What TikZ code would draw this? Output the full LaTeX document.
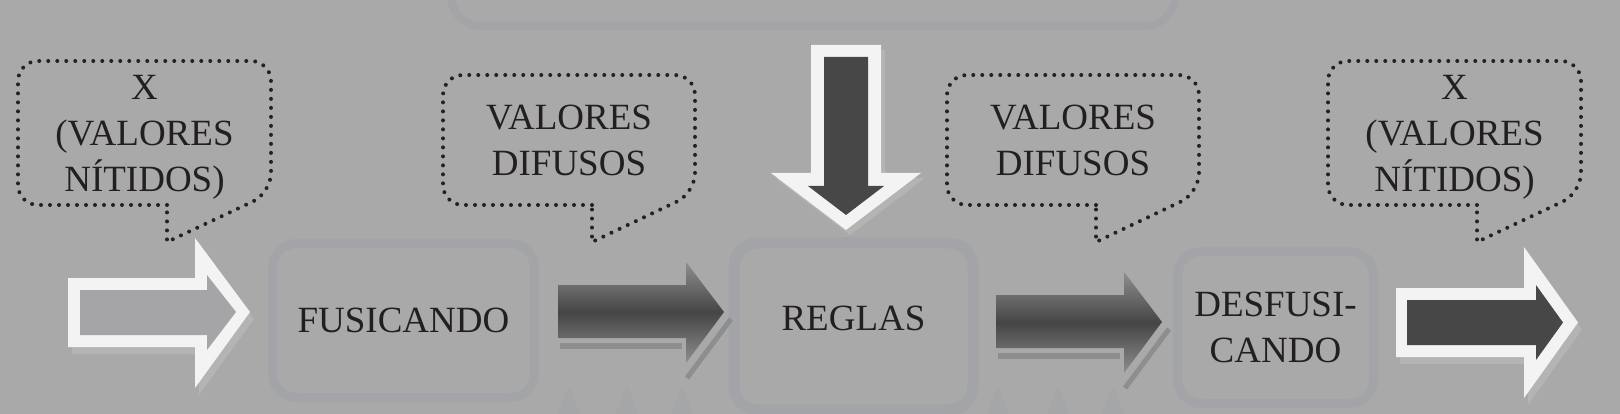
\documentclass[tikz,border=0pt]{standalone}
\usepackage{fontspec}
\setmainfont{Liberation Serif}
\usepackage{tikz}
\usetikzlibrary{positioning}
\usetikzlibrary{calc}
\definecolor{bggray}{HTML}{A9A9A9}
\definecolor{boxline}{HTML}{A3A4A7}
\definecolor{ghost}{HTML}{A5A6A8}
\definecolor{txtcol}{HTML}{231F20}
\definecolor{dotcol}{HTML}{222222}
\definecolor{arrwhite}{HTML}{F3F3F3}
\definecolor{arrdark}{HTML}{474747}
\definecolor{arrhollow}{HTML}{A5A5A7}
\definecolor{shadelight}{HTML}{B5B4B3}
\definecolor{shadedark}{HTML}{8D8E90}
\definecolor{gtop}{HTML}{8E8E8E}
\definecolor{gmid}{HTML}{454545}
\tikzstyle{stagebox}=[draw=boxline,line width=9pt,rounded corners=24pt,inner sep=0pt]
\tikzstyle{bubble}=[draw=dotcol,line width=4pt,line cap=round,dash pattern=on 0pt off 9pt]
\tikzstyle{txt}=[text=txtcol,font={\fontsize{37}{46}\selectfont},align=center]
\tikzstyle{gradarrow}=[top color=gtop,bottom color=gtop,middle color=gmid]

\begin{document}
\begin{tikzpicture}[x=1pt,y=-1pt]
  \useasboundingbox (0,0) rectangle (1620,414);
  \clip (0,0) rectangle (1620,414);
  \fill[bggray] (0,0) rectangle (1620,414);

  % faint box cut off at the top
  \node[stagebox,line width=8pt,rounded corners=30pt,minimum width=724pt,minimum height=140pt] (top) at (813,-44) {};

  \foreach \x in {569,627,682,998,1058,1113}
     \fill[ghost] (\x,385) -- (\x+11,414) -- (\x-11,414) -- cycle;

  \node[stagebox,txt,minimum width=262pt,minimum height=154pt] (fus) at (403.5,320.5) {FUSICANDO};
  \node[stagebox,txt,line width=11pt,minimum width=239pt,minimum height=167pt,text depth=17pt] (reg) at (853.5,326.5) {REGLAS};
  \node[stagebox,txt,minimum width=196pt,minimum height=152pt] (desf) at (1275.5,327.5) {DESFUSI-\\CANDO};

  % speech bubbles
  \foreach \name/\xl/\xr/\yt/\ty/\btext in {xin/18/271/61/137/{X\\(VALORES\\NÍTIDOS)}, difa/443/695/75/140/{VALORES\\DIFUSOS}, difb/947/1199/75/140/{VALORES\\DIFUSOS}, xout/1328/1581/61/137/{X\\(VALORES\\NÍTIDOS)}}
  {
     \draw[bubble] (\xl+149,205) [rounded corners=20pt] -- (\xl,205) -- (\xl,\yt) -- (\xr,\yt) -- (\xr,193) [sharp corners] -- (\xl+149,242) -- cycle;
     \node[txt] (\name) at ({(\xl+\xr)/2},\ty) {\btext};
  }

  % input arrow (hollow)
  \fill[shadelight,shift={(4,7)}] (68,278) -- (195,278) -- (195,238) -- (250,312) -- (195,388) -- (195,347) -- (68,347) -- cycle;
  \fill[arrwhite] (68,278) -- (195,278) -- (195,238) -- (250,312) -- (195,388) -- (195,347) -- (68,347) -- cycle;
  \fill[arrhollow] (80,290) -- (207,290) -- (207,275) -- (236,312) -- (207,350) -- (207,335) -- (80,335) -- cycle;

  % shaded arrows between the boxes
  \foreach \dx/\dy in {0/0, 438/10}
  {
    \begin{scope}[shift={(\dx,\dy)}]
      \fill[shadedark] (560,343) rectangle (682,349);
      \draw[shadedark,line width=5pt] (731,319) -- (687,378);
      \shade[gradarrow] (558,285) -- (686,285) -- (686,262) -- (724,312) -- (686,363) -- (686,338) -- (558,338) -- cycle;
    \end{scope}
  }

  % rules arrow from above
  \fill[shadelight,shift={(4,5)}] (811,45) -- (881,45) -- (881,173) -- (921,173) -- (846,230) -- (771,173) -- (811,173) -- cycle;
  \fill[arrwhite] (811,45) -- (881,45) -- (881,173) -- (921,173) -- (846,230) -- (771,173) -- (811,173) -- cycle;
  \fill[arrdark] (824,57) -- (868,57) -- (868,186) -- (884,186) -- (846,215) -- (808,186) -- (824,186) -- cycle;

  % output arrow
  \fill[shadelight,shift={(4,7)}] (1396,288) -- (1524,288) -- (1524,247) -- (1578,322.5) -- (1524,398) -- (1524,357) -- (1396,357) -- cycle;
  \fill[arrwhite] (1396,288) -- (1524,288) -- (1524,247) -- (1578,322.5) -- (1524,398) -- (1524,357) -- (1396,357) -- cycle;
  \fill[arrdark] (1407,300) -- (1536,300) -- (1536,285) -- (1563,322.5) -- (1536,360) -- (1536,345) -- (1407,345) -- cycle;

\end{tikzpicture}
\end{document}
